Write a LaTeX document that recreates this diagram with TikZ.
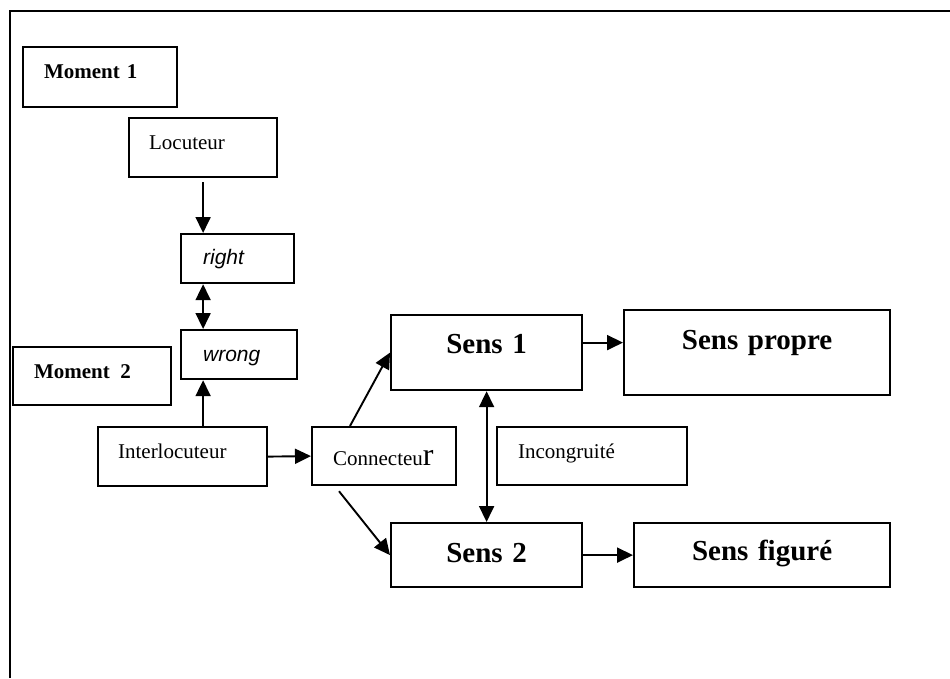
\documentclass[tikz,border=0pt]{standalone}
\usepackage{fontspec}
\setmainfont{Liberation Serif}
\newfontfamily\sansit{Liberation Sans}
\usepackage{tikz}
\usetikzlibrary{arrows.meta, calc}

\begin{document}
\begin{tikzpicture}[x=1pt, y=-1pt,
    box/.style={draw, line width=2.2pt, inner ysep=0pt, anchor=north west, align=left},
    mid/.style={box, align=center, inner xsep=0pt},
    txt/.style={font=\fontsize{21}{25}\selectfont},
    mom/.style={font=\fontsize{21}{25}\selectfont\bfseries},
    big/.style={font=\fontsize{29}{34}\selectfont\bfseries},
    ans/.style={font=\sansit\fontsize{21}{25}\selectfont\itshape},
    arr/.style={line width=1.9pt, -{Triangle[length=16pt,width=15pt]}},
    dbl/.style={line width=1.9pt, {Triangle[length=16pt,width=15pt]}-{Triangle[length=16pt,width=15pt]}}]
\useasboundingbox (0,0) rectangle (950,678);
% outer frame
\draw[line width=2.8pt] (10,678) -- (10,11) -- (950,11);

% Moment 1
\node[box, mom, text width=112pt, inner xsep=21pt, text height=31pt, text depth=29pt] (m1) at (22,46) {Moment 1};
\node[box, txt, text width=108pt, inner xsep=20pt, text height=31pt, text depth=28pt] (loc) at (128,117) {Locuteur};
\coordinate (axis) at (loc.south);
\node[box, ans, text width=69pt, inner xsep=22pt, text height=30pt, text depth=19pt] (rightbox) at (180,233) {right};
\node[box, ans, text width=72pt, inner xsep=22pt, text height=31pt, text depth=18pt] (wrongbox) at (180,329) {wrong};

% Moment 2
\node[box, mom, text width=116pt, inner xsep=21pt, text height=31pt, text depth=27pt] (m2) at (12,346) {Moment\hspace{0.5em}2};
\node[box, txt, text width=129pt, inner xsep=20pt, text height=31pt, text depth=28pt] (inter) at (97,426) {Interlocuteur};
\node[box, txt, text width=102pt, inner xsep=21pt, text height=38pt, text depth=20pt] (conn) at (311,426) {Connecteu{\fontsize{32}{34}\selectfont r}};
\node[box, txt, text width=148pt, inner xsep=21pt, text height=31pt, text depth=27pt] (inc) at (496,426) {Incongruité};

% the two senses
\node[mid, big, text width=191pt, text height=38pt, text depth=37pt] (s1) at (390,314) {Sens 1};
\node[mid, big, text width=266pt, text height=39pt, text depth=46pt] (sprop) at (623,309) {Sens propre};
\node[mid, big, text width=191pt, text height=39pt, text depth=25pt] (s2) at (390,522) {Sens 2};
\node[mid, big, text width=256pt, text height=37pt, text depth=27pt] (sfig) at (633,522) {Sens figuré};

% arrows
\draw[arr, shorten <=4pt] (loc.south) -- (axis |- rightbox.north);
\draw[dbl] (axis |- rightbox.south) -- (axis |- wrongbox.north);
\draw[arr] (axis |- inter.north) -- (axis |- wrongbox.south);
\draw[arr] (inter.east) -- (conn.west);
\draw[arr] ($(conn.north west)+(39,0)$) -- (s1.west);
\draw[arr] ($(conn.south west)+(28,5)$) -- (s2.west);
\draw[dbl] (s1.south) -- (s2.north);
\draw[arr] ([yshift=10pt]s1.east) -- ([yshift=10pt]s1.east -| sprop.west);
\draw[arr] (s2.east) -- (sfig.west);
\end{tikzpicture}
\end{document}
